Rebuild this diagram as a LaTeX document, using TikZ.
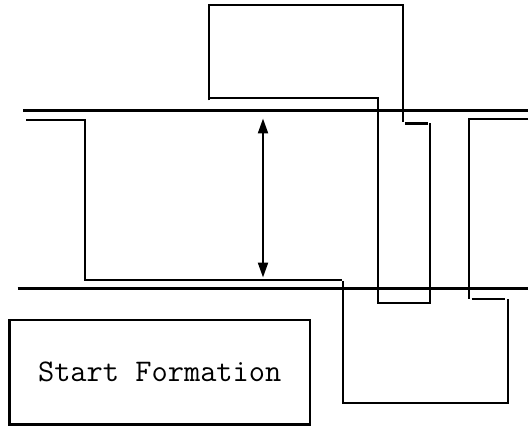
\documentclass[tikz,border=0pt]{standalone}
\usetikzlibrary{arrows.meta}
\begin{document}
\begin{tikzpicture}[x=1pt,y=-1pt,
  rail/.style={line width=2.8pt},
  wire/.style={line width=2pt},
  thickseg/.style={line width=2.6pt},
  measure/.style={line width=2.2pt,{Triangle[length=15pt,width=10pt]}-{Triangle[length=15pt,width=10pt]}},
  labelbox/.style={draw,line width=2.4pt,minimum width=300.5pt,minimum height=104.5pt,inner sep=0pt,font=\fontsize{31.5}{36}\selectfont\ttfamily}]
\useasboundingbox (0,0) rectangle (529,427);
% rails
\coordinate (r1a) at (23,110.5);  \coordinate (r1b) at (528,110.5);
\coordinate (r2a) at (17.5,288.5); \coordinate (r2b) at (528,288.5);
\draw[rail] (r1a) -- (r1b);
\draw[rail] (r2a) -- (r2b);
% left piece
\coordinate (l1) at (26,120);
\coordinate (l2) at (84.5,120);
\coordinate (l3) at (84.5,279.5);
\coordinate (l4) at (342,279.5);
\draw[wire] (l1) -- (l2) -- (l3) -- (l4);
% bottom right loop
\coordinate (b1) at (342.5,281);
\coordinate (b2) at (342.5,403);
\coordinate (b3) at (507.8,403);
\coordinate (b4) at (507.8,298.5);
\draw[wire] (b1) -- (b2) -- (b3) -- (b4);
\coordinate (s1) at (471.7,298.5);
\coordinate (s2) at (505,298.5);
\draw[wire] (s1) -- (s2);
% right piece
\coordinate (p1) at (528,119.5);
\coordinate (p2) at (469.3,119.5);
\coordinate (p3) at (469.3,298.5);
\draw[wire] (p1) -- (p2) -- (p3);
% top box
\coordinate (t1) at (209,100.5);
\coordinate (t2) at (209,5);
\coordinate (t3) at (402.7,5);
\coordinate (t4) at (402.7,122.5);
\draw[wire] (t1) -- (t2) -- (t3) -- (t4);
\coordinate (k1) at (405,123.8);
\coordinate (k2) at (427.7,123.8);
\draw[thickseg] (k1) -- (k2);
% middle column
\coordinate (m1) at (430,123.5);
\coordinate (m2) at (430,302.7);
\coordinate (m3) at (378,302.7);
\coordinate (m4) at (378,98.5);
\coordinate (m5) at (209,98.5);
\draw[wire] (m1) -- (m2) -- (m3) -- (m4) -- (m5);
% measurement arrow
\coordinate (atop) at (263,118.5);
\coordinate (abot) at (263,277.5);
\draw[measure] (atop) -- (abot);
% label box
\node[labelbox] (start) at (159.7,372.2) {Start Formation};
\end{tikzpicture}
\end{document}
